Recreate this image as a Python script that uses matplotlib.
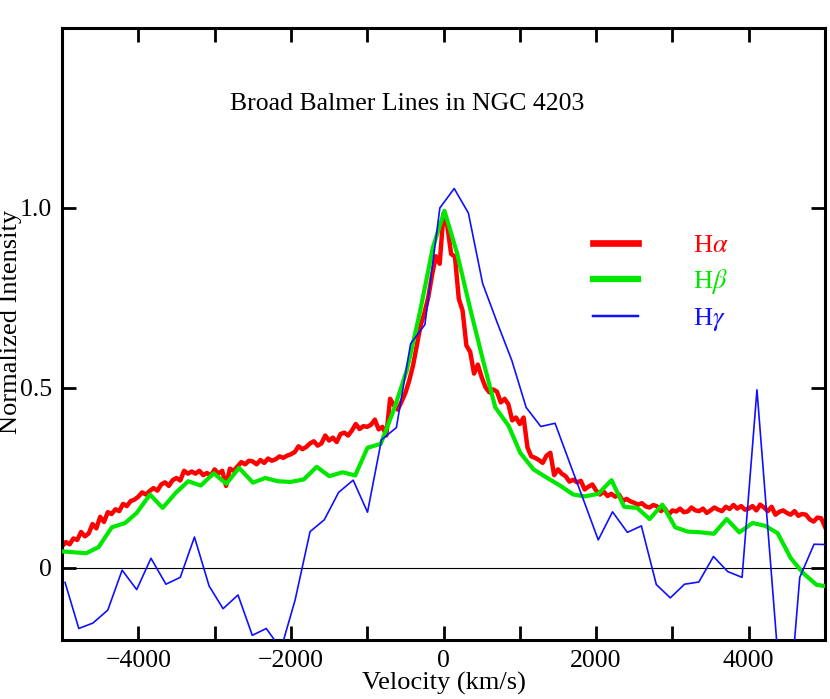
import numpy as np
import matplotlib
matplotlib.use("Agg")
from matplotlib import pyplot as plt

plt.rcParams['font.family'] = ['Liberation Serif', 'DejaVu Serif']
plt.rcParams['mathtext.fontset'] = 'stix'

# H-alpha : fine grid, 50 km/s
ha_v = np.arange(-5000, 5001, 50)
ha_i = [
    0.060, 0.072, 0.066, 0.082, 0.078, 0.100, 0.088, 0.096, 0.122, 0.110,
    0.142, 0.128, 0.155, 0.150, 0.163, 0.158, 0.178, 0.172, 0.186, 0.190,
    0.198, 0.210, 0.204, 0.214, 0.222, 0.215, 0.232, 0.238, 0.228, 0.244,
    0.250, 0.243, 0.270, 0.262, 0.268, 0.262, 0.270, 0.258, 0.264, 0.256,
    0.274, 0.262, 0.270, 0.228, 0.276, 0.270, 0.282, 0.294, 0.288, 0.298,
    0.296, 0.288, 0.300, 0.292, 0.304, 0.298, 0.302, 0.310, 0.306, 0.312,
    0.316, 0.322, 0.338, 0.330, 0.336, 0.346, 0.352, 0.340, 0.346, 0.368,
    0.354, 0.362, 0.350, 0.372, 0.376, 0.368, 0.382, 0.400, 0.386, 0.394,
    0.392, 0.398, 0.412, 0.385, 0.392, 0.368, 0.470, 0.452, 0.440, 0.462,
    0.486, 0.520, 0.562, 0.618, 0.674, 0.708, 0.752, 0.814, 0.866, 0.845,
    0.985, 0.950, 0.872, 0.865, 0.748, 0.715, 0.618, 0.600, 0.540, 0.565,
    0.530, 0.502, 0.488, 0.496, 0.490, 0.460, 0.470, 0.455, 0.410, 0.418,
    0.400, 0.418, 0.335, 0.310, 0.306, 0.300, 0.292, 0.312, 0.320, 0.258,
    0.274, 0.262, 0.255, 0.240, 0.245, 0.238, 0.242, 0.218, 0.226, 0.232,
    0.215, 0.204, 0.212, 0.200, 0.206, 0.198, 0.204, 0.186, 0.192, 0.185,
    0.181, 0.176, 0.180, 0.171, 0.168, 0.175, 0.171, 0.158, 0.166, 0.148,
    0.160, 0.157, 0.165, 0.155, 0.157, 0.168, 0.160, 0.158, 0.165, 0.153,
    0.160, 0.168, 0.162, 0.158, 0.170, 0.164, 0.175, 0.165, 0.172, 0.162,
    0.165, 0.172, 0.160, 0.176, 0.168, 0.158, 0.170, 0.148, 0.156, 0.160,
    0.153, 0.148, 0.158, 0.145, 0.150, 0.148, 0.135, 0.129, 0.140, 0.138,
    0.114]

# H-beta
hb_v = [-4990, -4683, -4521, -4347, -4173, -4021, -3847, -3681, -3508, -3346,
        -3181, -3012, -2846, -2680, -2497, -2337, -2171, -2006, -1832, -1662,
        -1497, -1322, -1158, -996, -822, -650, -480, -310, -140, 13,
        178, 350, 520, 679, 853, 1005, 1179, 1360, 1527, 1701,
        1854, 2028, 2202, 2367, 2537, 2702, 2868, 3037, 3202, 3376,
        3542, 3712, 3877, 4051, 4217, 4378, 4552, 4717, 4891, 5000]
hb_i = [0.046, 0.041, 0.058, 0.113, 0.125, 0.153, 0.204, 0.167, 0.209, 0.241,
        0.229, 0.263, 0.234, 0.278, 0.237, 0.250, 0.241, 0.239, 0.246, 0.281,
        0.255, 0.266, 0.257, 0.334, 0.345, 0.440, 0.550, 0.710, 0.890, 0.992,
        0.874, 0.720, 0.575, 0.446, 0.395, 0.320, 0.274, 0.250, 0.229, 0.204,
        0.199, 0.206, 0.244, 0.170, 0.167, 0.136, 0.176, 0.113, 0.101, 0.099,
        0.095, 0.136, 0.099, 0.125, 0.117, 0.097, 0.027, -0.015, -0.047, -0.050]

# H-gamma
hg_v = [-4960, -4780, -4595, -4400, -4212, -4021, -3834, -3638, -3450, -3264,
        -3072, -2889, -2693, -2506, -2323, -2130, -1945, -1749, -1562, -1375,
        -1184, -996, -813, -618, -431, -244, -48, 140, 326, 513,
        701, 896, 1083, 1275, 1462, 1650, 1840, 2028, 2215, 2410,
        2593, 2789, 2972, 3159, 3346, 3538, 3725, 3913, 4108, 4480,
        4669, 4856, 5040]
hg_i = [-0.040, -0.168, -0.153, -0.117, -0.006, -0.060, 0.027, -0.045, -0.026, 0.086,
        -0.050, -0.113, -0.075, -0.187, -0.168, -0.225, -0.089, 0.101, 0.134, 0.210,
        0.244, 0.155, 0.356, 0.390, 0.623, 0.676, 1.000, 1.054, 0.986, 0.790,
        0.683, 0.576, 0.446, 0.393, 0.402, 0.294, 0.186, 0.078, 0.156, 0.099,
        0.117, -0.046, -0.083, -0.045, -0.039, 0.032, -0.010, -0.026, 0.495, -0.510,
        -0.026, 0.066, 0.065]

fig = plt.figure(figsize=(8.3, 6.99), dpi=100)
ax = fig.add_axes([0.0747, 0.0844, 0.9193, 0.8756])

ax.axhline(0, color="black", lw=0.8, zorder=1)
ax.plot(ha_v, ha_i, color="#ff0000", lw=3.2, label=r"H$\alpha$", zorder=2)
ax.plot(hb_v, hb_i, color="#00e800", lw=3.0, label=r"H$\beta$", zorder=3)
ax.plot(hg_v, hg_i, color="#1010ff", lw=1.2, label=r"H$\gamma$", zorder=4)

ax.set_xlim(-5000, 5000)
ax.set_ylim(-0.2, 1.5)
ax.set_xticks([-4000, -2000, 0, 2000, 4000])
ax.set_xticks(range(-5000, 5001, 1000), minor=True)
ax.set_xticklabels(["\u22124000", "\u22122000", "0", "2000", "4000"])
ax.set_yticks([0, 0.5, 1.0])
ax.set_yticklabels(["0", "0.5", "1.0"])
ax.tick_params(which="both", direction="in", length=10, width=2,
               top=True, right=True, labelsize=18.5, pad=7)
for s in ax.spines.values():
    s.set_linewidth(2.2)

ax.set_xlabel("Velocity (km/s)", fontsize=19, labelpad=0)
ax.set_ylabel("Normalized Intensity", fontsize=19)
ax.yaxis.set_label_coords(-0.052, 0.52)
ax.text(0.452, 0.875, "Broad Balmer Lines in NGC 4203", transform=ax.transAxes,
        ha="center", va="center", fontsize=18.5)

leg = ax.legend(loc="upper left", bbox_to_anchor=(0.696, 0.664), frameon=False,
                fontsize=19, handlelength=1.7, handletextpad=2.1,
                labelspacing=0.38, borderpad=0, borderaxespad=0,
                labelcolor="linecolor")
for line in leg.get_lines():
    line.set_linewidth(line.get_linewidth() * 1.5)

plt.savefig("out.png", dpi=100)
